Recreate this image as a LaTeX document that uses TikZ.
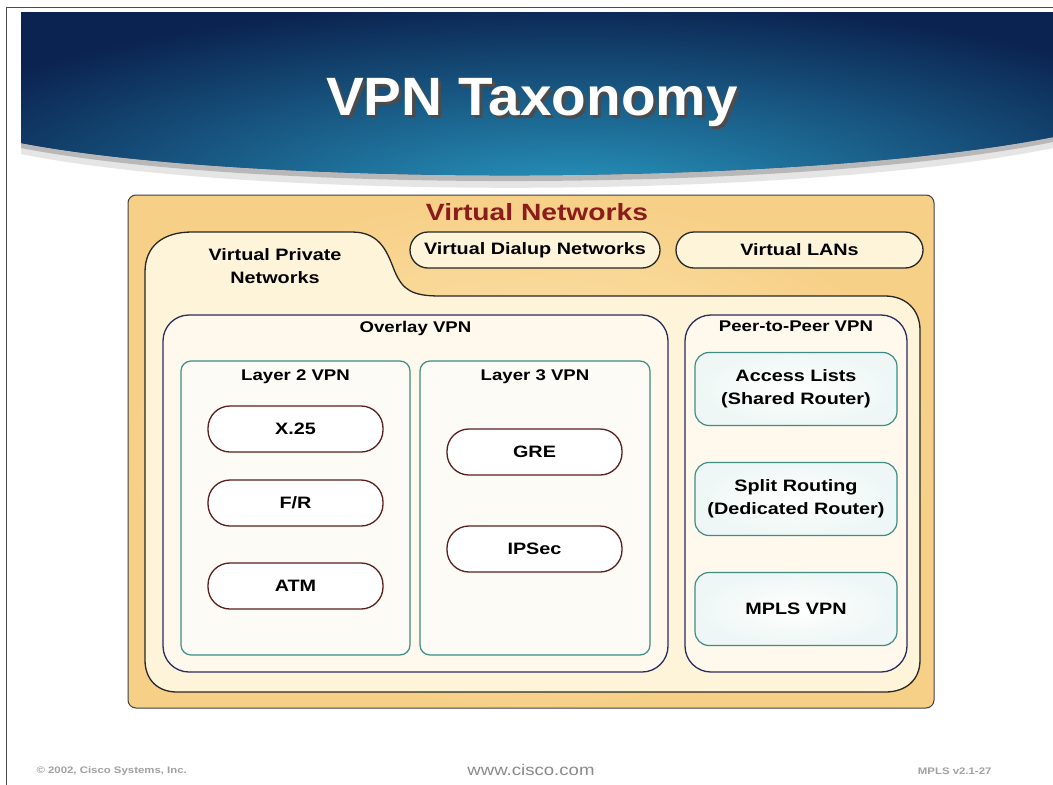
\documentclass[tikz,border=0pt]{standalone}
\usepackage{fontspec}
\usetikzlibrary{positioning}
\newfontfamily\slidefont[FakeStretch=1.2]{Liberation Sans}
\newfontfamily\titlefont[FakeStretch=1.05]{Liberation Sans}
\newcommand\bodyfont{\slidefont\bfseries\fontsize{16.5}{23}\selectfont}
\newcommand\headfont{\slidefont\bfseries\fontsize{15.5}{23}\selectfont}
\newcommand\shadowtext[1]{\rlap{\hspace{3pt}\raisebox{-3pt}{\color{black!70}#1}}#1}

\definecolor{bannerdark}{HTML}{0B2350}
\definecolor{bannerlight}{HTML}{2898C0}
\definecolor{vnouter}{HTML}{F7D088}
\definecolor{vninner}{HTML}{FDEAB8}
\definecolor{vnred}{HTML}{8A1C1C}
\definecolor{tabfill}{HTML}{FEF4DA}
\definecolor{groupline}{HTML}{2B2B5E}
\definecolor{groupfill}{HTML}{FEF9EC}
\definecolor{layerline}{HTML}{3E8C84}
\definecolor{layerfill}{HTML}{FDFBF5}
\definecolor{pillline}{HTML}{5A1E1E}
\definecolor{peerfill}{HTML}{EEF7F5}
\definecolor{footgray}{HTML}{8A8A8A}

\begin{document}
\begin{tikzpicture}[x=1pt,y=-1pt,
  pill/.style={draw=pillline, line width=1.3pt, fill=white, rounded corners=22pt,
    minimum width=175pt, minimum height=46pt, font=\bodyfont},
  layerbox/.style={draw=layerline, line width=1.2pt, fill=layerfill, rounded corners=10pt,
    minimum width=229pt, minimum height=294pt, inner sep=0pt},
  groupbox/.style={draw=groupline, line width=1.3pt, fill=groupfill, rounded corners=26pt,
    minimum height=357pt, inner sep=0pt},
  peerbox/.style={draw=layerline, line width=1.2pt, inner color=white, outer color=peerfill,
    rounded corners=14pt, minimum width=202pt, minimum height=73pt, align=center, font=\bodyfont},
  topbox/.style={draw=black!85, line width=1.3pt, fill=tabfill, rounded corners=18pt,
    minimum height=36pt, font=\bodyfont},
  boxtitle/.style={font=\headfont, inner sep=0pt},
  foot/.style={font=\slidefont\bfseries\fontsize{9.5}{11}\selectfont, text=footgray!80}]
  \useasboundingbox (0,0) rectangle (1053,785);
  \fill[white] (0,0) rectangle (1053,785);

  % banner
  \fill[black!10] (21,154) .. controls (250,200) and (800,200) .. (1053,148) -- (1053,137) .. controls (800,187) and (250,187) .. (21,143) -- cycle;
  \fill[black!28] (21,148) .. controls (250,193) and (800,193) .. (1053,142) -- (1053,137) .. controls (800,187) and (250,187) .. (21,143) -- cycle;
  \begin{scope}
    \clip (21,12) -- (1053,12) -- (1053,137) .. controls (800,187) and (250,187) .. (21,143) -- cycle;
    \fill[bannerdark] (0,0) rectangle (1053,200);
    \shade[inner color=bannerlight, outer color=bannerdark] (570,200) ellipse [x radius=720pt, y radius=200pt];
  \end{scope}
  \draw[black!70, line width=1pt] (6,785) -- (6,7) -- (1053,7);
  \node[font=\titlefont\bfseries\fontsize{54}{56}\selectfont, text=white] (title) at (532,104) {\shadowtext{VPN Taxonomy}};

  % virtual networks
  \node[draw=black!75, line width=1pt, rounded corners=8pt, inner color=vninner, outer color=vnouter,
    minimum width=806pt, minimum height=513pt] (vn) at (531,451.5) {};
  \node[font=\slidefont\bfseries\fontsize{23.5}{25}\selectfont, text=vnred, inner sep=0pt] (vntitle) at (537,212) {Virtual Networks};
  \draw[black!85, line width=1.3pt, fill=tabfill] (145,660) -- (145,272) .. controls (145,246) and (163,232) .. (192,232)
    -- (352,232) .. controls (382,232) and (388,255) .. (395,272) .. controls (403,290) and (412,296) .. (440,296)
    -- (885,296) .. controls (906,296) and (920,310) .. (920,330) -- (920,660) .. controls (920,680) and (906,692) .. (885,692)
    -- (177,692) .. controls (158,692) and (145,680) .. (145,660) -- cycle;
  \node[boxtitle, font=\bodyfont, align=center] (vpn) at (275,266) {Virtual Private\\Networks};
  \node[topbox, minimum width=250pt] (vdn) at (535,250) {Virtual Dialup Networks};
  \node[topbox, minimum width=247pt] (vlan) at (799.5,250) {Virtual LANs};

  % overlay
  \node[groupbox, minimum width=505pt] (overlay) at (415.5,493.5) {};
  \node[boxtitle, below=7pt of overlay.north] (overlaytitle) {Overlay VPN};
  \node[layerbox] (layer2) at (295.5,508) {};
  \node[layerbox, minimum width=230pt] (layer3) at (535,508) {};
  \node[boxtitle, below=9pt of layer2.north] (layer2title) {Layer 2 VPN};
  \node[boxtitle, below=9pt of layer3.north] (layer3title) {Layer 3 VPN};
  \node[pill] (x25) at (295.5,429) {X.25};
  \node[pill] (fr) at (295.5,503) {F/R};
  \node[pill] (atm) at (295.5,586) {ATM};
  \node[pill] (gre) at (534.5,452) {GRE};
  \node[pill] (ipsec) at (534.5,549) {IPSec};

  % peer-to-peer
  \node[groupbox, minimum width=222pt] (peer) at (796,493.5) {};
  \node[boxtitle, below=6pt of peer.north] (peertitle) {Peer-to-Peer VPN};
  \node[peerbox] (acl) at (796,389) {Access Lists\\(Shared Router)};
  \node[peerbox] (split) at (796,499) {Split Routing\\(Dedicated Router)};
  \node[peerbox] (mpls) at (796,609) {MPLS VPN};

  % footer
  \node[foot, anchor=west] (copy) at (33,771) {\textcopyright{} 2002, Cisco Systems, Inc.};
  \node[font=\slidefont\fontsize{15.5}{17}\selectfont, text=footgray] (www) at (531,770) {www.cisco.com};
  \node[foot, anchor=east] (ver) at (995,771) {MPLS v2.1-27};
\end{tikzpicture}
\end{document}
